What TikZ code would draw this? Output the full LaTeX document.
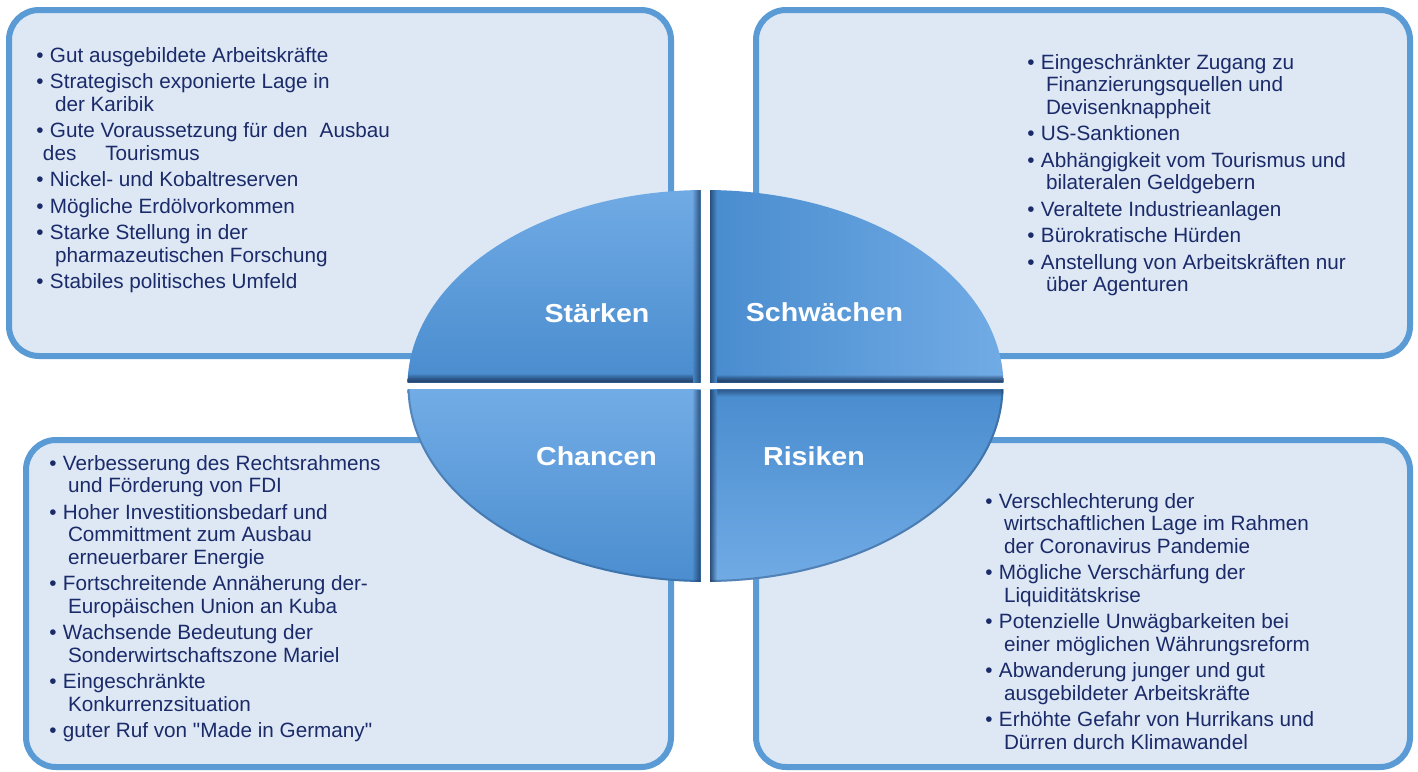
\documentclass[tikz,border=0pt]{standalone}
\usepackage{fontspec}
\setmainfont{Liberation Sans}
\newfontfamily\quadfont{Liberation Sans}[FakeStretch=1.1]
\definecolor{boxfill}{RGB}{221,232,244}
\definecolor{boxline}{RGB}{91,155,213}
\definecolor{bodytext}{RGB}{27,42,105}
\definecolor{qlight}{RGB}{114,172,230}
\definecolor{qdark}{RGB}{73,140,206}
\definecolor{qedge}{RGB}{28,56,95}
\newcommand\swotbul{\makebox[13.6pt][l]{•}}
\newcommand\swotind{\hspace*{18.6pt}}
\newcommand\swotlist[1]{\begin{minipage}[t]{600pt}\raggedright\fontsize{20.7}{22.5}\selectfont #1\end{minipage}}
\begin{document}
\begin{tikzpicture}[x=1pt,y=-1pt,
  swotbox/.style={draw=boxline, fill=boxfill, line width=6pt, rounded corners=30pt, inner sep=0pt},
  listtext/.style={anchor=base west, inner sep=0pt, outer sep=0pt, text=bodytext},
  quadlabel/.style={anchor=base, text=white, font=\quadfont\bfseries\fontsize{26}{30}\selectfont, inner sep=0pt},
  bevel/.style={qedge, line width=1.1pt}]
\useasboundingbox (0,0) rectangle (1418,771);
\fill[white] (0,0) rectangle (1418,771);

% boxes
\node[swotbox, minimum width=662pt, minimum height=346pt] (boxS) at (340,183) {};
\node[swotbox, minimum width=654pt, minimum height=346pt] (boxW) at (1083,183) {};
\node[swotbox, minimum width=645pt, minimum height=327pt] (boxO) at (348.5,603.5) {};
\node[swotbox, minimum width=654pt, minimum height=327pt] (boxT) at (1083,603.5) {};

% texts
\node[listtext] (txtS) at (36.4,62) {\swotlist{%
\swotbul Gut ausgebildete Arbeitskräfte\\[4pt]
\swotbul Strategisch exponierte Lage in\\\swotind der Karibik\\[4pt]
\swotbul Gute Voraussetzung für den\hspace{12pt}Ausbau\\\hspace*{6.6pt}des\hspace{29pt}Tourismus\\[4pt]
\swotbul Nickel- und Kobaltreserven\\[4pt]
\swotbul Mögliche Erdölvorkommen\\[4pt]
\swotbul Starke Stellung in der\\\swotind pharmazeutischen Forschung\\[4pt]
\swotbul Stabiles politisches Umfeld}};

\node[listtext] (txtW) at (1027.4,69) {\swotlist{%
\swotbul Eingeschränkter Zugang zu\\\swotind Finanzierungsquellen und\\\swotind Devisenknappheit\\[4pt]
\swotbul US-Sanktionen\\[4pt]
\swotbul Abhängigkeit vom Tourismus und\\\swotind bilateralen Geldgebern\\[4pt]
\swotbul Veraltete Industrieanlagen\\[4pt]
\swotbul Bürokratische Hürden\\[4pt]
\swotbul Anstellung von Arbeitskräften nur\\\swotind über Agenturen}};

\node[listtext] (txtO) at (49.4,470) {\swotlist{%
\swotbul Verbesserung des Rechtsrahmens\\\swotind und Förderung von FDI\\[4pt]
\swotbul Hoher Investitionsbedarf und\\\swotind Committment zum Ausbau\\\swotind erneuerbarer Energie\\[4pt]
\swotbul Fortschreitende Annäherung der-\\\swotind Europäischen Union an Kuba\\[4pt]
\swotbul Wachsende Bedeutung der\\\swotind Sonderwirtschaftszone Mariel\\[4pt]
\swotbul Eingeschränkte\\\swotind Konkurrenzsituation\\[4pt]
\swotbul guter Ruf von \textquotedbl Made in Germany\textquotedbl}};

\node[listtext] (txtT) at (985.4,508) {\swotlist{%
\swotbul Verschlechterung der\\\swotind wirtschaftlichen Lage im Rahmen\\\swotind der Coronavirus Pandemie\\[4pt]
\swotbul Mögliche Verschärfung der\\\swotind Liquiditätskrise\\[4pt]
\swotbul Potenzielle Unwägbarkeiten bei\\\swotind einer möglichen Währungsreform\\[4pt]
\swotbul Abwanderung junger und gut\\\swotind ausgebildeter Arbeitskräfte\\[4pt]
\swotbul Erhöhte Gefahr von Hurrikans und\\\swotind Dürren durch Klimawandel}};

% quadrants
% Staerken (top left)
\begin{scope}
\clip (705.5,386) ellipse [x radius=298, y radius=196];
\clip (400,180) rectangle (700.7,382.5);
\shade[top color=qlight, bottom color=qdark] (400,180) rectangle (700.7,382.5);
\foreach \i in {0,...,7} {
  \draw[bevel, opacity={0.75*(1-\i/8)}] (700.7-\i-0.5,180) -- (700.7-\i-0.5,382.5);
  \draw[bevel, opacity={0.6*(1-\i/8)}] (400,382.5-\i-0.5) -- (700.7-8,382.5-\i-0.5);
}
\end{scope}
% Schwaechen (top right)
\begin{scope}
\clip (705.5,386) ellipse [x radius=298, y radius=196];
\clip (710,180) rectangle (1010,382.5);
\shade[left color=qdark, right color=qlight] (710,180) rectangle (1010,382.5);
\foreach \i in {0,...,6} {
  \draw[bevel, opacity={0.7*(1-\i/7)}] (710+\i+0.5,180) -- (710+\i+0.5,382.5);
  \draw[bevel, opacity={0.65*(1-\i/7)}] (710+7,382.5-\i-0.5) -- (1010,382.5-\i-0.5);
}
\end{scope}
% Chancen (bottom left)
\begin{scope}
\clip (705.5,386) ellipse [x radius=298, y radius=196];
\clip (400,389.5) rectangle (700.7,590);
\shade[top color=qlight, bottom color=qdark] (400,389.5) rectangle (700.7,590);
\foreach \i in {0,...,7} {
  \draw[bevel, opacity={0.75*(1-\i/8)}] (700.7-\i-0.5,389.5) -- (700.7-\i-0.5,590);
}
\draw[qedge, opacity=0.3, line width=4pt] (705.5,386) ellipse [x radius=298, y radius=196];
\end{scope}
% Risiken (bottom right)
\begin{scope}
\clip (705.5,386) ellipse [x radius=298, y radius=196];
\clip (710,389.5) rectangle (1010,590);
\shade[top color=qdark, bottom color=qlight] (710,389.5) rectangle (1010,590);
\foreach \i in {0,...,6} {
  \draw[bevel, opacity={0.8*(1-\i/7)}] (710+\i+0.5,389.5) -- (710+\i+0.5,590);
  \draw[bevel, opacity={0.35*(1-\i/7)}] (710+7,389.5+\i+0.5) -- (1010,389.5+\i+0.5);
}
\draw[qedge, opacity=0.35, line width=4pt] (705.5,386) ellipse [x radius=298, y radius=196];
\end{scope}

% labels
\node[quadlabel] (labS) at (597,322) {Stärken};
\node[quadlabel] (labW) at (824.5,321) {Schwächen};
\node[quadlabel] (labO) at (596.5,465) {Chancen};
\node[quadlabel] (labT) at (814,465) {Risiken};
\end{tikzpicture}
\end{document}
